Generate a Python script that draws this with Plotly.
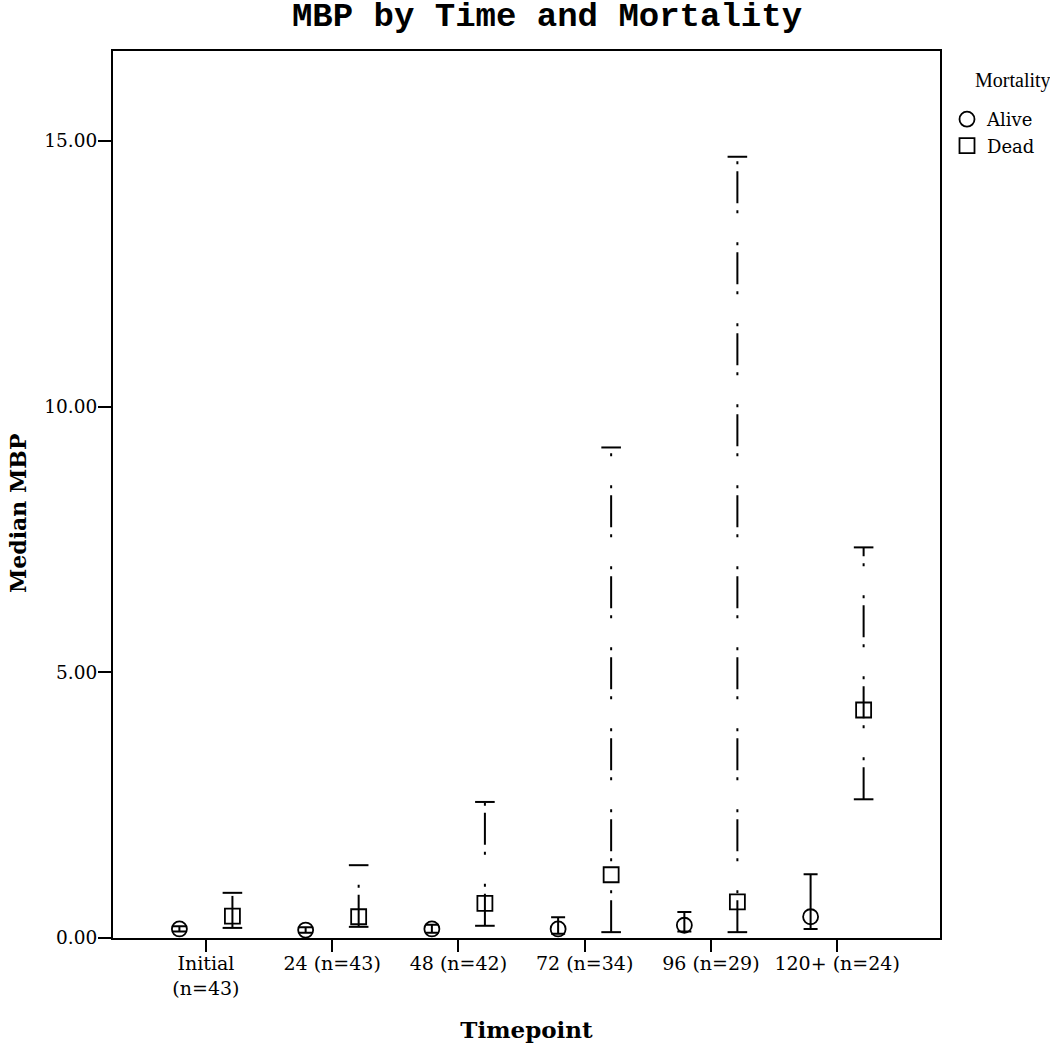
import plotly.graph_objects as go

categories = ["Initial<br>(n=43)", "24 (n=43)", "48 (n=42)", "72 (n=34)", "96 (n=29)", "120+ (n=24)"]

alive_median = [0.17, 0.15, 0.17, 0.17, 0.24, 0.40]
alive_low = [0.12, 0.10, 0.10, 0.08, 0.12, 0.17]
alive_high = [0.22, 0.20, 0.25, 0.39, 0.49, 1.20]

dead_median = [0.41, 0.40, 0.65, 1.19, 0.68, 4.29]
dead_low = [0.19, 0.21, 0.23, 0.11, 0.11, 2.61]
dead_high = [0.85, 1.37, 2.56, 9.23, 14.70, 7.35]

OFF = 0.21
SERIF = "DejaVu Serif"
W, H = 1050, 1048
L, R, T, B = 113, 110, 51, 110
PW, PH = W - L - R, H - T - B
xa = [i - OFF for i in range(len(categories))]
xd = [i + OFF for i in range(len(categories))]


def px_x(px):
    return (px - L) / PW


def px_y(py):
    return (H - B - py) / PH


fig = go.Figure()

# Alive: solid error bars
fig.add_trace(go.Scatter(
    x=xa, y=alive_median, mode="markers", name="Alive",
    marker=dict(symbol="circle-open", size=15, color="black", line=dict(width=1.8)),
    error_y=dict(type="data", symmetric=False,
                 array=[h - m for h, m in zip(alive_high, alive_median)],
                 arrayminus=[m - l for m, l in zip(alive_median, alive_low)],
                 width=7, thickness=2, color="black"),
))

# Dead: dash-dot error bars
lx, ly = [], []
for x, lo, hi in zip(xd, dead_low, dead_high):
    lx += [x, x, None]
    ly += [lo, hi, None]
fig.add_trace(go.Scatter(
    x=lx, y=ly, mode="lines", showlegend=False, hoverinfo="skip",
    line=dict(color="black", width=2, dash="32px,7px,3px,29px,3px,7px"),
))
fig.add_trace(go.Scatter(
    x=xd + xd, y=dead_low + dead_high, mode="markers", showlegend=False, hoverinfo="skip",
    marker=dict(symbol="line-ew-open", size=14, color="black", line=dict(width=2, color="black")),
))
fig.add_trace(go.Scatter(
    x=xd, y=dead_median, mode="markers", name="Dead",
    marker=dict(symbol="square-open", size=15, color="black", line=dict(width=1.8)),
))

fig.update_layout(
    width=W, height=H,
    margin=dict(l=L, r=R, t=T, b=B, autoexpand=False),
    paper_bgcolor="white", plot_bgcolor="white",
    font=dict(family=SERIF, color="black", size=18),
    title=dict(text="MBP by Time and Mortality", x=px_x(547), xanchor="center",
               xref="paper", y=1 - 14 / H, yanchor="middle",
               font=dict(family="Liberation Mono", size=34, color="black", weight="bold")),
    showlegend=True,
    legend=dict(x=px_x(947), xanchor="left", y=px_y(101), yanchor="top",
                font=dict(family=SERIF, size=18), bgcolor="rgba(0,0,0,0)",
                tracegroupgap=0, itemsizing="trace"),
    annotations=[
        dict(text="Mortality", xref="paper", yref="paper",
             x=px_x(973), y=px_y(80), xanchor="left", yanchor="middle",
             showarrow=False, font=dict(family="Liberation Serif", size=20)),
        dict(text="<b>Median MBP</b>", xref="paper", yref="paper", textangle=-90,
             x=px_x(18), y=px_y(513), xanchor="center", yanchor="middle",
             showarrow=False, font=dict(family=SERIF, size=22)),
    ],
    xaxis=dict(
        range=[-0.736, 5.815], tickmode="array",
        tickvals=list(range(len(categories))), ticktext=categories,
        showgrid=False, zeroline=False, automargin=False,
        showline=True, linecolor="black", linewidth=2, mirror=True,
        ticks="outside", ticklen=12, tickwidth=2, tickcolor="black",
        ticklabelstandoff=-5,
        tickfont=dict(family=SERIF, size=19),
        title=dict(text="<b>Timepoint</b>", font=dict(family=SERIF, size=23), standoff=24),
    ),
    yaxis=dict(
        range=[0, 16.69], tickvals=[0, 5, 10, 15], tickformat=".2f",
        showgrid=False, zeroline=False, automargin=False,
        showline=True, linecolor="black", linewidth=2, mirror=True,
        ticks="outside", ticklen=13, tickwidth=2, tickcolor="black",
        ticklabelstandoff=-3,
        tickfont=dict(family=SERIF, size=18.5),
    ),
)

fig.write_html("out.html", config={"displayModeBar": False},
               post_script="document.body.style.margin='0px';")
